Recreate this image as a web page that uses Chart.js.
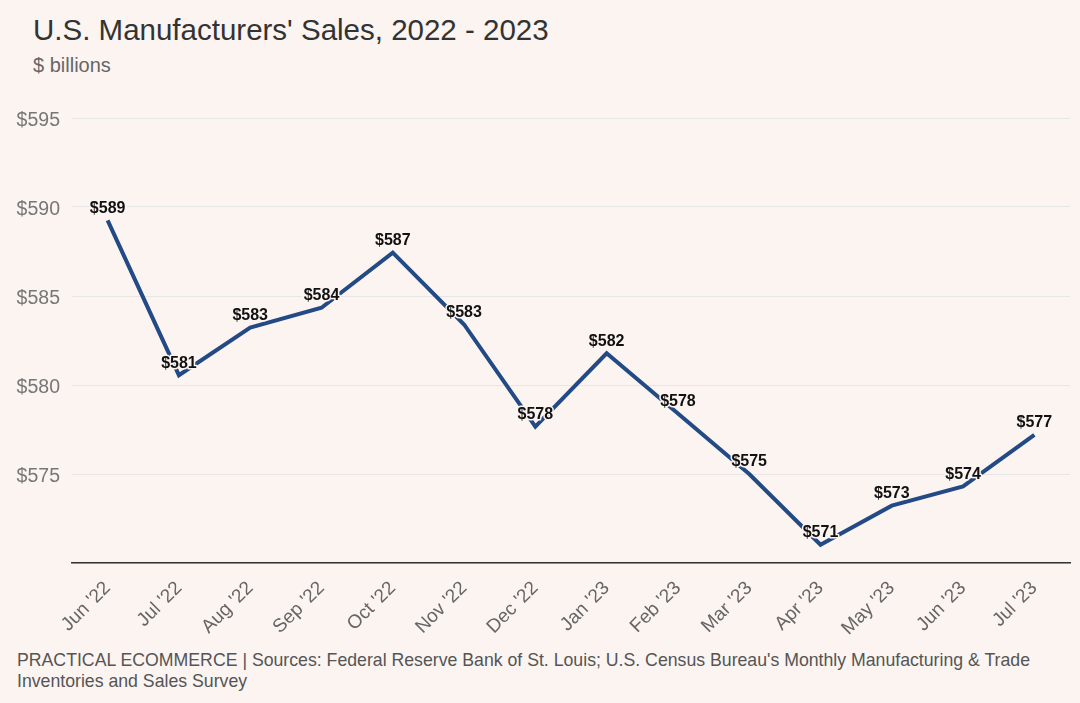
<!DOCTYPE html>
<html>
<head>
<meta charset="utf-8">
<script src="https://cdn.jsdelivr.net/npm/chart.js@4"></script>
<style>
  body { margin: 0; background: #fbf4f1; font-family: 'Liberation Sans', Arial, sans-serif; }
  #wrap { position: relative; width: 1080px; height: 703px; overflow: hidden; }
  .titulo { position: absolute; left: 33px; top: 13px; font-size: 29.5px; color: #333; }
  .sub { position: absolute; left: 33px; top: 54px; font-size: 20px; color: #666; }
  .box { position: absolute; left: 0; top: 90px; width: 1080px; height: 555px; }
  .rodape { position: absolute; left: 17px; top: 650px; font-size: 17.7px; line-height: 21px; color: #555; white-space: nowrap; }
</style>
</head>
<body>
<div id="wrap">
  <div class="titulo">U.S. Manufacturers' Sales, 2022 - 2023</div>
  <div class="sub">$ billions</div>
  <div class="box"><canvas id="chartVendas"></canvas></div>
  <div class="rodape">PRACTICAL ECOMMERCE | Sources: Federal Reserve Bank of St. Louis; U.S. Census Bureau's Monthly Manufacturing &amp; Trade<br>Inventories and Sales Survey</div>
</div>
<script>
// dados
const meses = ["Jun '22", "Jul '22", "Aug '22", "Sep '22", "Oct '22", "Nov '22", "Dec '22",
    "Jan '23", "Feb '23", "Mar '23", "Apr '23", "May '23", "Jun '23", "Jul '23"];
const vendas = [589.25, 580.55, 583.22, 584.34, 587.44, 583.4, 577.66,
    581.78, 578.4, 575.0, 571.03, 573.22, 574.3, 577.2];
const yTicks = [575, 580, 585, 590, 595];

const corFundo = '#fbf4f1';

// rótulos de valor em cima de cada ponto
const rotulos = {
    id: 'rotulos',
    afterDatasetsDraw(chart) {
        const ctx = chart.ctx;
        const meta = chart.getDatasetMeta(0);
        ctx.save();
        ctx.font = "bold 16px 'Liberation Sans', Arial, sans-serif";
        ctx.textAlign = 'center';
        ctx.textBaseline = 'middle';
        ctx.lineJoin = 'round';
        meta.data.forEach((pt, i) => {
            const txt = '$' + Math.round(vendas[i]);
            ctx.lineWidth = 3;
            ctx.strokeStyle = corFundo;
            ctx.strokeText(txt, pt.x, pt.y - 12);
            ctx.fillStyle = '#111';
            ctx.fillText(txt, pt.x, pt.y - 12);
        });
        ctx.restore();
    },
};

new Chart(document.getElementById('chartVendas').getContext('2d'), {
    type: 'line',
    data: {
        labels: meses,
        datasets: [
            {
                data: vendas,
                borderColor: '#234a85',
                borderWidth: 4,
                pointRadius: 0,
                tension: 0,
                fill: false,
            },
        ],
    },
    options: {
        responsive: true,
        maintainAspectRatio: false,
        animation: false,
        layout: { padding: { top: 28, right: 10, left: 0, bottom: 0 } },
        plugins: { legend: { display: false }, tooltip: { enabled: false } },
        scales: {
            x: {
                offset: true,
                grid: { display: false },
                border: { display: true, color: '#333', width: 1.5 },
                ticks: {
                    minRotation: 45,
                    maxRotation: 45,
                    autoSkip: false,
                    padding: 6,
                    color: '#666',
                    font: { size: 19, family: "'Liberation Sans', Arial, sans-serif" },
                },
                afterFit(scale) { scale.height = 82; },
            },
            y: {
                min: 570,
                max: 595,
                afterBuildTicks(scale) {
                    scale.ticks = [570].concat(yTicks).map((v) => ({ value: v }));
                },
                grid: { color: '#e6e6e6', lineWidth: 1, drawTicks: false },
                border: { display: false },
                ticks: {
                    padding: 12,
                    labelOffset: 3,
                    color: '#777',
                    font: { size: 19.5, family: "'Liberation Sans', Arial, sans-serif" },
                    callback: (v) => (yTicks.includes(v) ? '$' + v : ''),
                },
                afterFit(scale) { scale.width = 72; },
            },
        },
    },
    plugins: [rotulos],
});
</script>
</body>
</html>
